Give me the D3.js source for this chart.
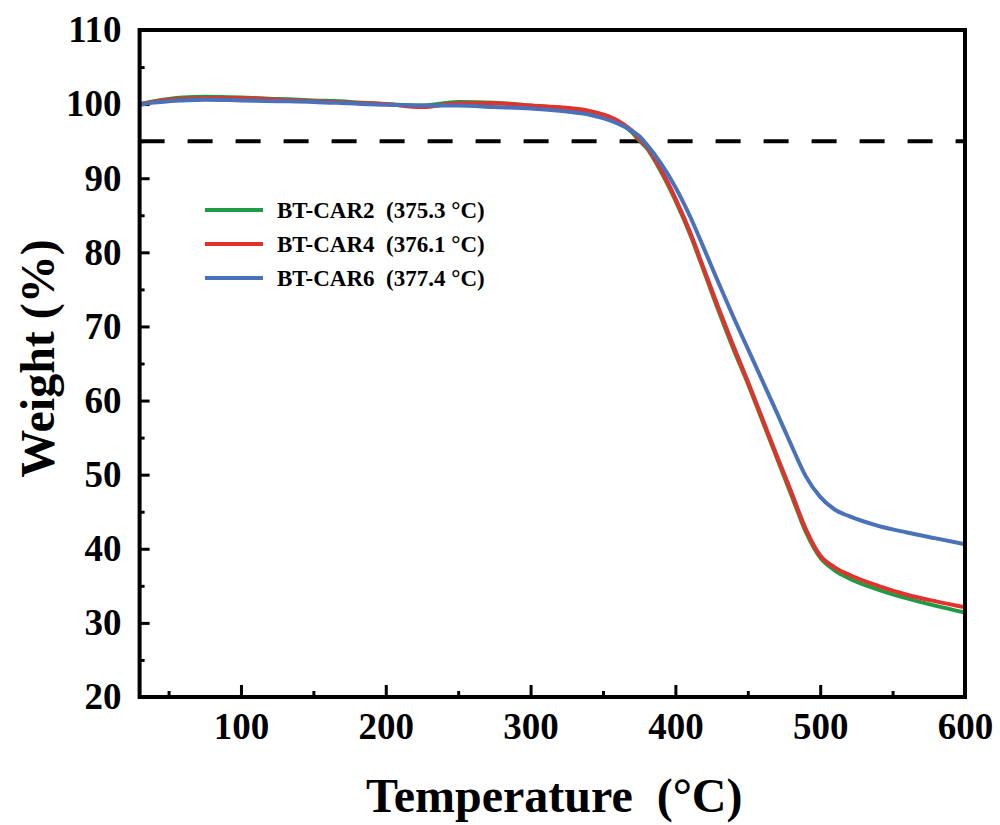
<!DOCTYPE html>
<html>
<head>
<meta charset="utf-8">
<script src="https://cdn.jsdelivr.net/npm/d3@7"></script>
<style>
  body { margin: 0; background: #fff; }
  text { font-family: "Liberation Serif", "Times New Roman", serif; font-weight: bold; }
</style>
</head>
<body>
<div id="chart"></div>
<script>
// temperature grid (°C) shared by the three TGA curves
const temps = [30, 40, 50, 60, 75, 100, 125, 150, 175, 200, 225, 250, 275, 300, 325, 340, 350, 360, 370, 375, 380, 390, 400, 410, 420, 430, 440, 450, 460, 470, 480, 490, 500, 510, 520, 540, 560, 580, 600]

const car2 = [100.0, 100.4, 100.7, 100.9, 101.0, 100.9, 100.7, 100.5, 100.3, 100.0, 99.8, 100.3, 100.2, 99.8, 99.4, 99.0, 98.5, 97.6, 96.2, 95.1, 94.1, 90.9, 87.0, 82.5, 77.3, 72.0, 67.0, 62.3, 57.3, 52.3, 47.3, 42.3, 38.8, 37.1, 36.0, 34.5, 33.3, 32.3, 31.4]
const car4 = [100.0, 100.3, 100.6, 100.7, 100.8, 100.8, 100.6, 100.4, 100.2, 100.0, 99.6, 100.1, 100.1, 99.8, 99.5, 99.1, 98.6, 97.8, 96.4, 95.3, 94.3, 91.2, 87.3, 82.8, 77.6, 72.4, 67.4, 62.6, 57.6, 52.6, 47.7, 42.7, 39.1, 37.5, 36.5, 35.0, 33.8, 32.9, 32.1]
const car6 = [99.9, 100.2, 100.4, 100.5, 100.6, 100.5, 100.4, 100.3, 100.1, 99.9, 99.8, 99.8, 99.6, 99.4, 99.0, 98.6, 98.1, 97.4, 96.4, 95.7, 94.6, 92.0, 88.8, 84.9, 80.4, 75.8, 71.3, 67.0, 62.7, 58.4, 54.0, 49.8, 47.0, 45.3, 44.4, 43.1, 42.2, 41.4, 40.6]

const seriesNames = ['BT-CAR2', 'BT-CAR4', 'BT-CAR6']
const t5 = ['375.3', '376.1', '377.4']
const colors = ['#1f9a45', '#e3322c', '#4a72b8']

const xTicks = [100, 200, 300, 400, 500, 600]
const xMinor = [50, 150, 250, 350, 450, 550]
const yTicks = [20, 30, 40, 50, 60, 70, 80, 90, 100, 110]
const yMinor = [25, 35, 45, 55, 65, 75, 85, 95, 105]

const W = 1000, H = 825
const mLeft = 139.6, mRight = 965, mTop = 30, mBottom = 697

const svg = d3.select('#chart').append('svg')
    .attr('width', W)
    .attr('height', H)

const x = d3.scaleLinear().domain([30, 600]).range([mLeft, mRight])
const y = d3.scaleLinear().domain([20, 110]).range([mBottom, mTop])

// axes with ticks pointing inward
const xAxis = svg.append('g')
    .attr('transform', `translate(0,${mBottom})`)
    .call(d3.axisBottom(x).tickValues(xTicks).tickSize(-12).tickSizeOuter(0).tickPadding(19))
xAxis.select('.domain').remove()
xAxis.selectAll('line').attr('stroke', '#000').attr('stroke-width', 3)
xAxis.selectAll('text').attr('font-size', 37).attr('fill', '#000').attr('dy', '0.62em')

const xAxisMinor = svg.append('g')
    .attr('transform', `translate(0,${mBottom})`)
    .call(d3.axisBottom(x).tickValues(xMinor).tickSize(-6).tickSizeOuter(0).tickFormat(''))
xAxisMinor.select('.domain').remove()
xAxisMinor.selectAll('line').attr('stroke', '#000').attr('stroke-width', 3)

const yAxis = svg.append('g')
    .attr('transform', `translate(${mLeft},0)`)
    .call(d3.axisLeft(y).tickValues(yTicks).tickSize(-10).tickSizeOuter(0).tickPadding(18))
yAxis.select('.domain').remove()
yAxis.selectAll('line').attr('stroke', '#000').attr('stroke-width', 3)
yAxis.selectAll('text').attr('font-size', 37).attr('fill', '#000')

const yAxisMinor = svg.append('g')
    .attr('transform', `translate(${mLeft},0)`)
    .call(d3.axisLeft(y).tickValues(yMinor).tickSize(-5).tickSizeOuter(0).tickFormat(''))
yAxisMinor.select('.domain').remove()
yAxisMinor.selectAll('line').attr('stroke', '#000').attr('stroke-width', 3)

// 5% weight loss reference
svg.append('line')
    .attr('x1', x(30)).attr('x2', x(600))
    .attr('y1', y(95)).attr('y2', y(95))
    .attr('stroke', '#000')
    .attr('stroke-width', 4)
    .attr('stroke-dasharray', '25,23')

const line = d3.line()
    .x((d, i) => x(temps[i]))
    .y(d => y(d))
    .curve(d3.curveMonotoneX)

const allSeries = [car2, car4, car6]
svg.selectAll('.curve')
    .data(allSeries)
    .enter()
    .append('path')
    .attr('class', 'curve')
    .attr('d', line)
    .attr('fill', 'none')
    .attr('stroke', (d, i) => colors[i])
    .attr('stroke-width', 4)

// frame
svg.append('rect')
    .attr('x', mLeft).attr('y', mTop)
    .attr('width', mRight - mLeft).attr('height', mBottom - mTop)
    .attr('fill', 'none')
    .attr('stroke', '#000')
    .attr('stroke-width', 4)

// legend
const legend = svg.append('g').attr('transform', 'translate(205,210)')
seriesNames.forEach((name, i) => {
    const row = legend.append('g').attr('transform', `translate(0,${i * 34})`)
    row.append('line')
        .attr('x1', 0).attr('x2', 58)
        .attr('stroke', colors[i])
        .attr('stroke-width', 4)
    row.append('text')
        .attr('x', 72)
        .attr('dy', '0.35em')
        .attr('font-size', 23)
        .attr('fill', '#000')
        .style('white-space', 'pre')
        .text(`${name}  (${t5[i]} °C)`)
})

// axis titles
svg.append('text')
    .attr('x', (mLeft + mRight) / 2 + 2)
    .attr('y', 812)
    .attr('text-anchor', 'middle')
    .attr('font-size', 48)
    .attr('fill', '#000')
    .style('white-space', 'pre')
    .text('Temperature  (°C)')

svg.append('text')
    .attr('transform', `translate(54,${(mTop + mBottom) / 2 - 5}) rotate(-90)`)
    .attr('text-anchor', 'middle')
    .attr('font-size', 48)
    .attr('fill', '#000')
    .text('Weight (%)')
</script>
</body>
</html>
